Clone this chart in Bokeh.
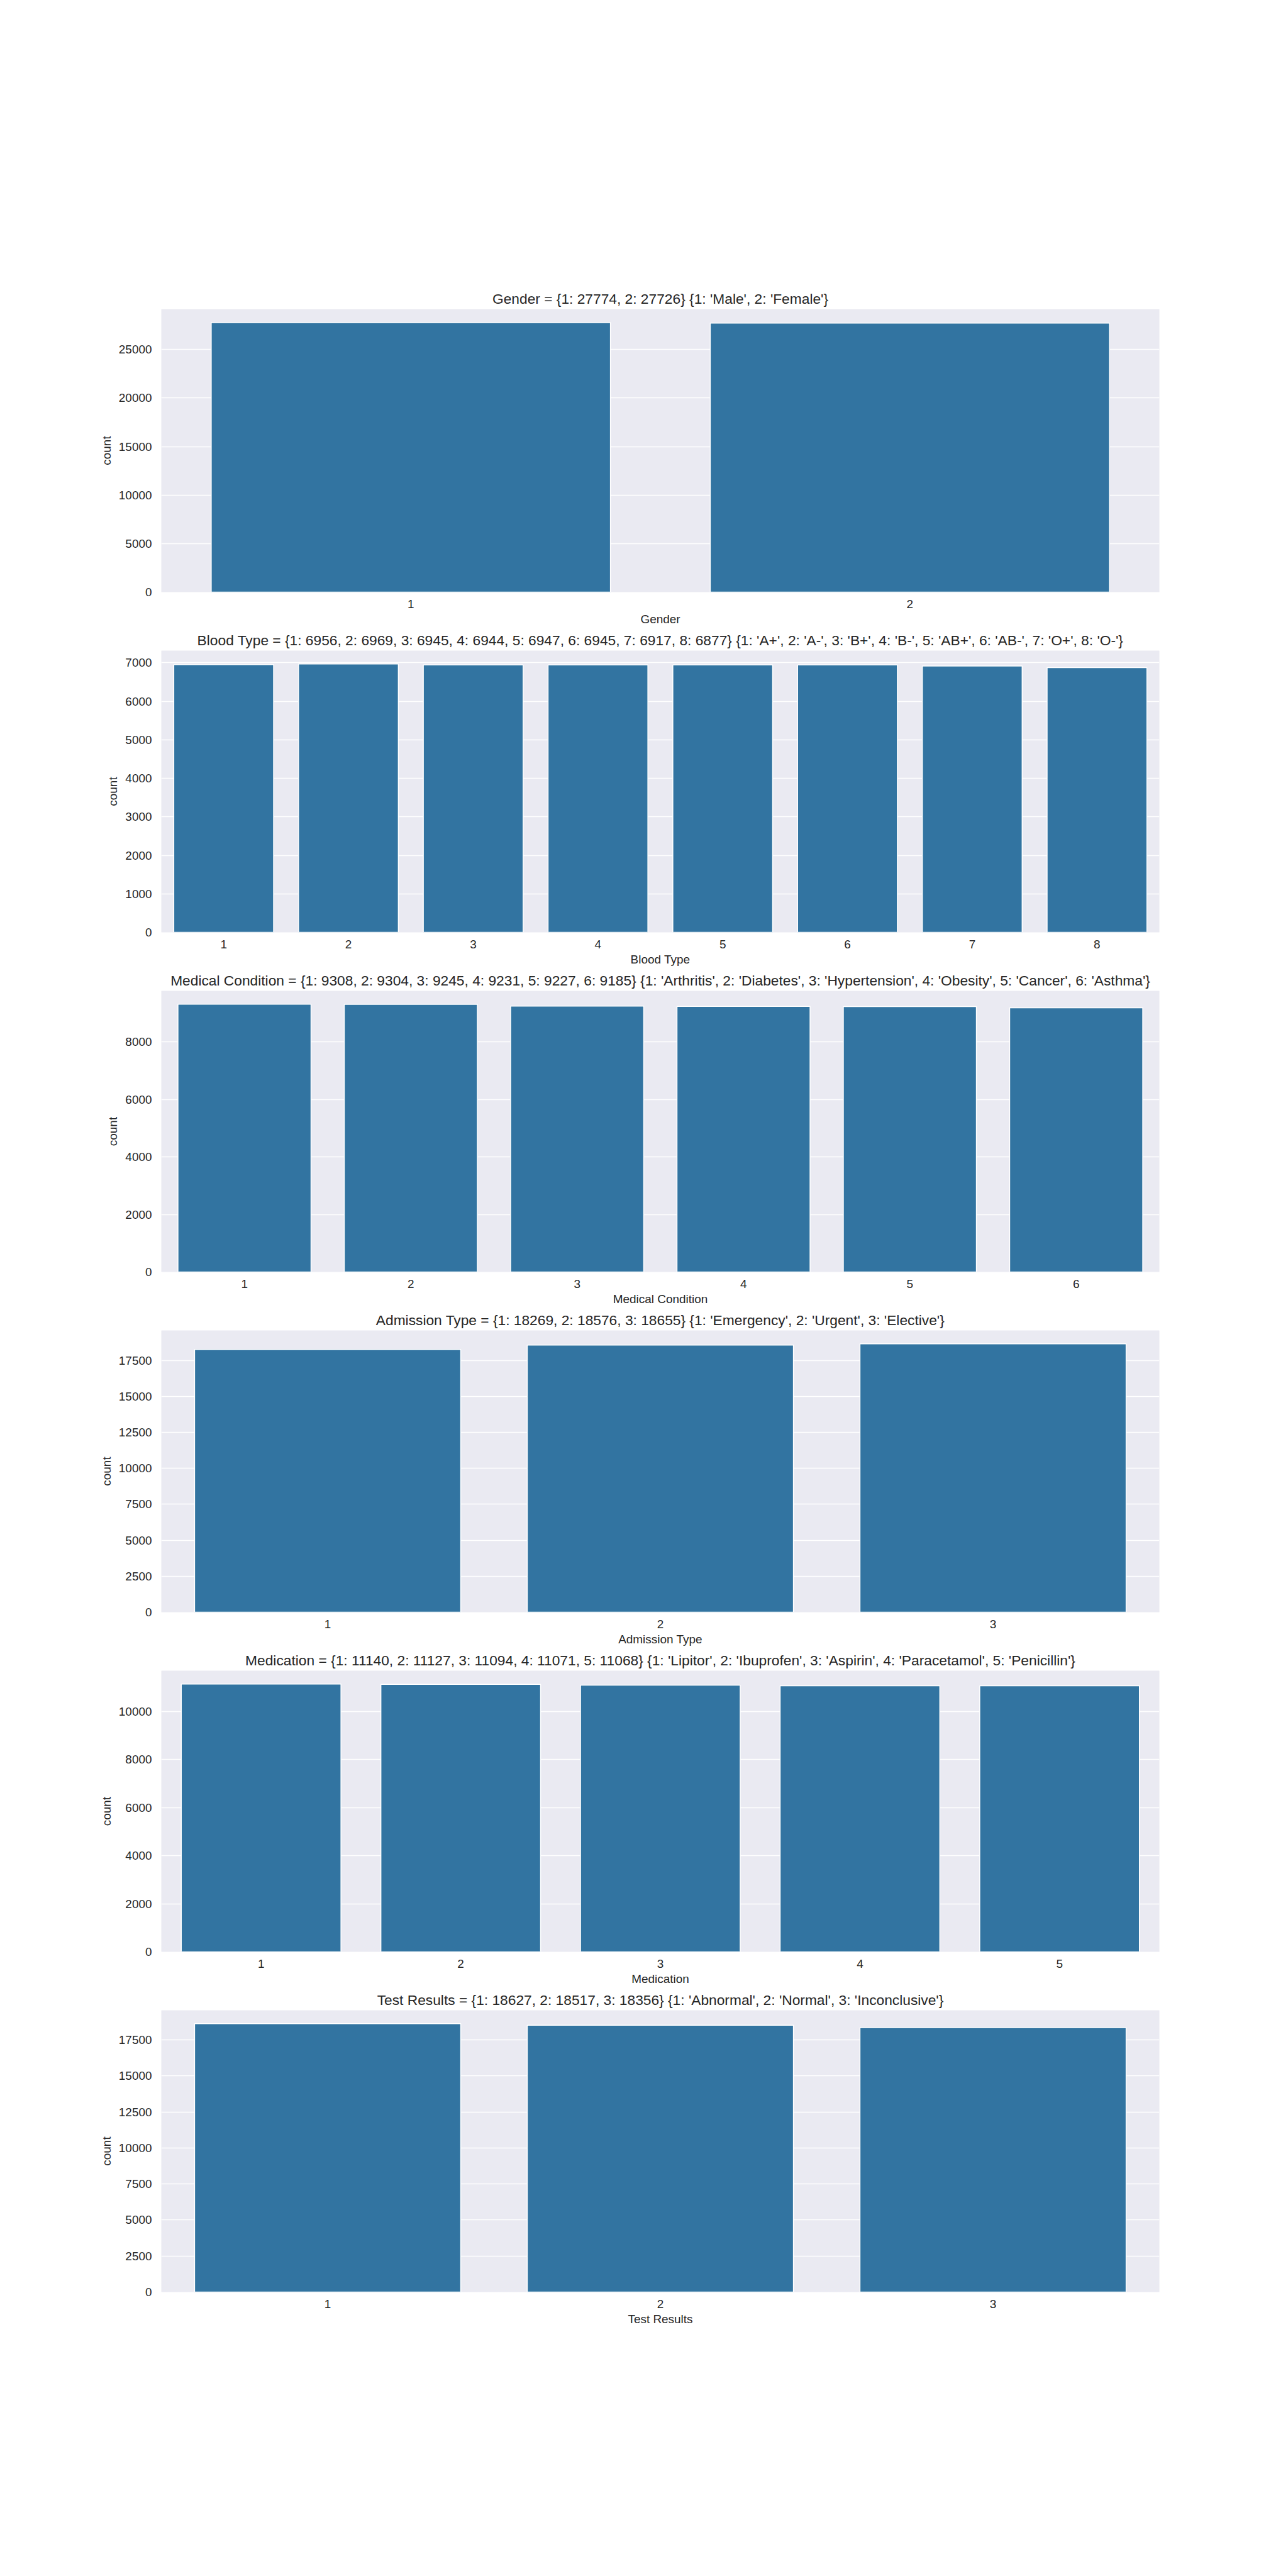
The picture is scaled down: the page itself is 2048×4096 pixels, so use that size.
from bokeh.plotting import figure
from bokeh.layouts import column
from bokeh.models import Range1d, FixedTicker
from bokeh.embed import file_html
from bokeh.resources import INLINE

# ---------------- data ----------------
gender_counts = [27774, 27726]
gender_names = ['Male', 'Female']
gender_yticks = [0, 5000, 10000, 15000, 20000, 25000]

blood_counts = [6956, 6969, 6945, 6944, 6947, 6945, 6917, 6877]
blood_names = ['A+', 'A-', 'B+', 'B-', 'AB+', 'AB-', 'O+', 'O-']
blood_yticks = [0, 1000, 2000, 3000, 4000, 5000, 6000, 7000]

condition_counts = [9308, 9304, 9245, 9231, 9227, 9185]
condition_names = ['Arthritis', 'Diabetes', 'Hypertension', 'Obesity', 'Cancer', 'Asthma']
condition_yticks = [0, 2000, 4000, 6000, 8000]

admission_counts = [18269, 18576, 18655]
admission_names = ['Emergency', 'Urgent', 'Elective']
admission_yticks = [0, 2500, 5000, 7500, 10000, 12500, 15000, 17500]

medication_counts = [11140, 11127, 11094, 11071, 11068]
medication_names = ['Lipitor', 'Ibuprofen', 'Aspirin', 'Paracetamol', 'Penicillin']
medication_yticks = [0, 2000, 4000, 6000, 8000, 10000]

test_counts = [18627, 18517, 18356]
test_names = ['Abnormal', 'Normal', 'Inconclusive']
test_yticks = [0, 2500, 5000, 7500, 10000, 12500, 15000, 17500]

panels = [
    ("Gender", gender_counts, gender_names, gender_yticks),
    ("Blood Type", blood_counts, blood_names, blood_yticks),
    ("Medical Condition", condition_counts, condition_names, condition_yticks),
    ("Admission Type", admission_counts, admission_names, admission_yticks),
    ("Medication", medication_counts, medication_names, medication_yticks),
    ("Test Results", test_counts, test_names, test_yticks),
]

# ---------------- layout ----------------
W, H = 2048, 4096
FL, FW = 256, 1587
FR = W - FL - FW
FH = 450
BB = 58
tops = [round(491.4 + i * 540.5) for i in range(len(panels))]
bounds = [0] + [tops[i] + FH + BB for i in range(len(panels) - 1)] + [H]

FONT = "Liberation Sans"
TXT = "#262626"
BAR = "#3274A1"
BG = "#EAEAF2"
TITLE_SIZE = "22.75px"
LABEL_SIZE = "18.96px"

figs = []
for i, (name, counts, names, yticks) in enumerate(panels):
    n = len(counts)
    xs = list(range(n))
    ytop = max(counts) * 1.05
    h = bounds[i + 1] - bounds[i]
    p = figure(width=W, height=h, output_backend="svg", toolbar_location=None,
               x_range=Range1d(-0.5, n - 0.5), y_range=Range1d(0, ytop),
               min_border_left=FL, min_border_right=FR,
               min_border_top=tops[i] - bounds[i],
               min_border_bottom=bounds[i + 1] - (tops[i] + FH),
               background_fill_color=BG, border_fill_color="white")
    p.outline_line_color = None
    p.vbar(x=xs, top=counts, width=0.8, fill_color=BAR, line_color="white", line_width=1.5)

    p.xgrid.visible = False
    p.ygrid.grid_line_color = "white"
    p.ygrid.grid_line_width = 1.5
    p.ygrid.ticker = FixedTicker(ticks=yticks)

    p.xaxis.ticker = FixedTicker(ticks=xs)
    p.xaxis.major_label_overrides = {k: str(k + 1) for k in xs}
    p.yaxis.ticker = FixedTicker(ticks=yticks)
    p.yaxis.major_label_overrides = {t: str(t) for t in yticks}
    for ax in (p.xaxis[0], p.yaxis[0]):
        ax.axis_line_color = None
        ax.major_tick_line_color = None
        ax.minor_tick_line_color = None
        ax.major_tick_out = 0
        ax.major_tick_in = 0
        ax.minor_tick_out = 0
        ax.minor_tick_in = 0
        ax.major_label_text_font = FONT
        ax.major_label_text_font_size = LABEL_SIZE
        ax.major_label_text_color = TXT
        ax.axis_label_text_font = FONT
        ax.axis_label_text_font_size = LABEL_SIZE
        ax.axis_label_text_font_style = "normal"
        ax.axis_label_text_color = TXT
    p.xaxis.major_label_standoff = 12
    p.xaxis.axis_label = name
    p.xaxis.axis_label_standoff = 4
    p.yaxis.major_label_standoff = 15
    p.yaxis.axis_label = "count"
    p.yaxis.axis_label_standoff = 6

    counts_txt = ", ".join(f"{k + 1}: {v}" for k, v in enumerate(counts))
    names_txt = ", ".join(f"{k + 1}: '{v}'" for k, v in enumerate(names))
    p.title.text = f"{name} = {{{counts_txt}}} {{{names_txt}}}"
    p.title.align = "center"
    p.title.text_font = FONT
    p.title.text_font_size = TITLE_SIZE
    p.title.text_font_style = "normal"
    p.title.text_color = TXT
    p.title.standoff = 7
    figs.append(p)

layout = column(*figs, spacing=0)
open("out.html", "w").write(file_html(layout, INLINE))
